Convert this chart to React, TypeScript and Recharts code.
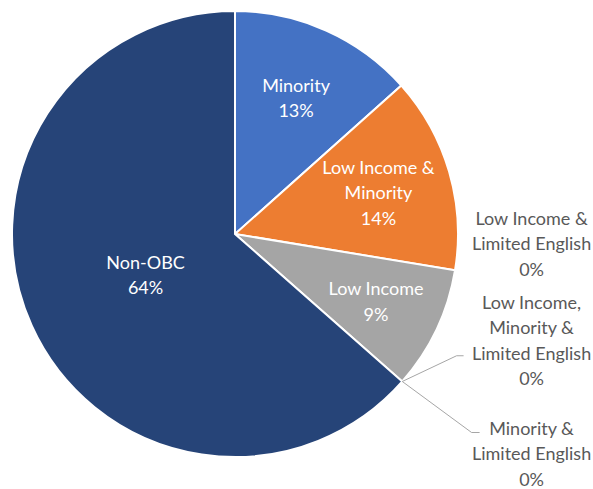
import { PieChart, Pie, Cell } from 'recharts';

const categories = [
  'Minority',
  'Low Income & Minority',
  'Low Income',
  'Low Income & Limited English',
  'Low Income, Minority & Limited English',
  'Minority & Limited English',
  'Non-OBC',
];
const shares = [13.4, 14.2, 8.9, 0, 0, 0, 63.5];
const percentLabels = ['13%', '14%', '9%', '0%', '0%', '0%', '64%'];
const labelLines = [
  ['Minority'],
  ['Low Income &', 'Minority'],
  ['Low Income'],
  ['Low Income &', 'Limited English'],
  ['Low Income,', 'Minority &', 'Limited English'],
  ['Minority &', 'Limited English'],
  ['Non-OBC'],
];
const colors = ['#4472C4', '#ED7D31', '#A5A5A5', '#5B9BD5', '#FFC000', '#70AD47', '#264478'];

const data = categories.map((name, i) => ({ name, value: shares[i] }));

const RADIAN = Math.PI / 180;
const LINE_H = 25.5;
const FONT_SIZE = 18;
const FONT = 'Lato, "Open Sans", sans-serif';

// inside labels: fraction of radius; outside labels: vertical offset from center
const insideRadius: Record<number, number> = { 0: 0.67, 1: 0.67, 2: 0.7, 6: 0.44 };
const outsideDy: Record<number, number> = { 3: 9, 4: 106, 5: 219 };

const renderLabel = (props: any) => {
  const { cx, cy, midAngle, outerRadius, index } = props;
  const lines = [...labelLines[index], percentLabels[index]];
  const cos = Math.cos(-midAngle * RADIAN);
  const sin = Math.sin(-midAngle * RADIAN);

  if (insideRadius[index] !== undefined) {
    const r = outerRadius * insideRadius[index];
    const x = cx + r * cos;
    const y = cy + r * sin - ((lines.length - 1) * LINE_H) / 2;
    return (
      <text x={x} y={y} fill="#fff" textAnchor="middle" dominantBaseline="central" fontSize={FONT_SIZE} fontFamily={FONT}>
        {lines.map((l, i) => (
          <tspan key={i} x={x} dy={i === 0 ? 0 : LINE_H}>
            {l}
          </tspan>
        ))}
      </text>
    );
  }

  const tx = cx + outerRadius * 1.33;
  const top = cy + outsideDy[index] - ((lines.length - 1) * LINE_H) / 2;
  const px = cx + outerRadius * cos;
  const py = cy + outerRadius * sin;
  let leader = null;
  if (index === 4) {
    const ly = top + 2 * LINE_H + 3;
    leader = <polyline points={`${px},${py} ${tx - 75},${ly} ${tx - 68},${ly}`} fill="none" stroke="#A6A6A6" strokeWidth={1} />;
  } else if (index === 5) {
    const ly = top + 5;
    leader = <polyline points={`${px},${py} ${tx - 60},${ly} ${tx - 52},${ly}`} fill="none" stroke="#A6A6A6" strokeWidth={1} />;
  }
  return (
    <g>
      {leader}
      <text x={tx} y={top} fill="#595959" textAnchor="middle" dominantBaseline="central" fontSize={FONT_SIZE} fontFamily={FONT}>
        {lines.map((l, i) => (
          <tspan key={i} x={tx} dy={i === 0 ? 0 : LINE_H}>
            {l}
          </tspan>
        ))}
      </text>
    </g>
  );
};

export default function App() {
  return (
    <div style={{ position: 'absolute', left: 0, top: 0, width: 593, height: 489, overflow: 'hidden', background: '#fff' }}>
      <PieChart width={640} height={489} margin={{ top: 0, right: 0, bottom: 0, left: 0 }}>
        <Pie
          data={data}
          dataKey="value"
          nameKey="name"
          cx={235}
          cy={234}
          outerRadius={223}
          startAngle={90}
          endAngle={-270}
          stroke="#fff"
          strokeWidth={2}
          label={renderLabel}
          labelLine={false}
          isAnimationActive={false}
        >
          {data.map((_, i) => (
            <Cell key={i} fill={colors[i]} />
          ))}
        </Pie>
      </PieChart>
    </div>
  );
}
